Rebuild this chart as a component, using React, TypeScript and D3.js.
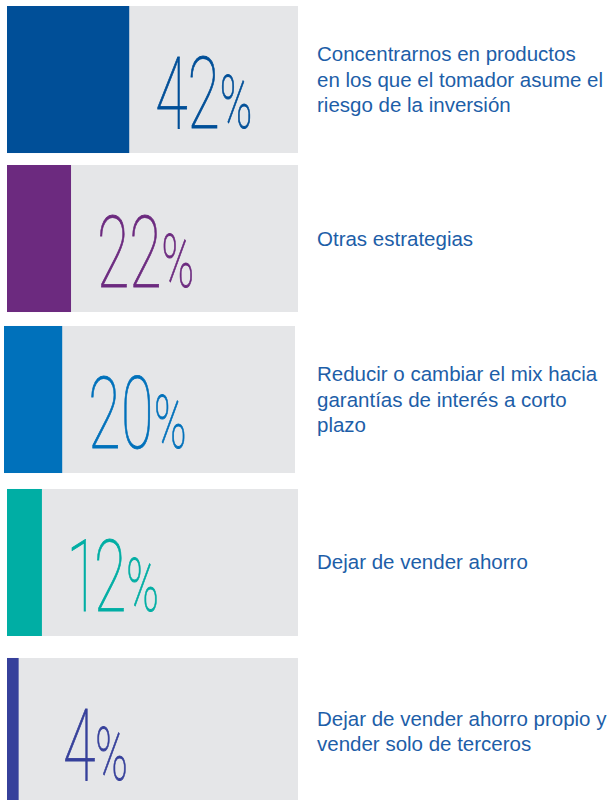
import React from "react";
import * as d3 from "d3";

const labelLines: string[][] = [
  ["Concentrarnos en productos", "en los que el tomador asume el", "riesgo de la inversión"],
  ["Otras estrategias"],
  ["Reducir o cambiar el mix hacia", "garantías de interés a corto", "plazo"],
  ["Dejar de vender ahorro"],
  ["Dejar de vender ahorro propio y", "vender solo de terceros"],
];
const values = [42, 22, 20, 12, 4];
const barColors = ["#004f98", "#6c2a7f", "#0071bb", "#00aea4", "#36409b"];

const W = 611;
const H = 800;
const panelLeft = 7;
const panelWidth = 291;
const rowNudgeY = [0, -4, -6, -6, 0];
const rowNudgeX = [0, 0, -3, 0, 0];
const labelColor = "#1d5ea8";

export default function App() {
  const ids = values.map((_, i) => String(i));
  const y = d3.scaleBand<string>().domain(ids).range([6, 805]).paddingInner(0.098).paddingOuter(0);
  const x = d3.scaleLinear().domain([0, 100]).range([0, panelWidth]);
  const bh = y.bandwidth();

  return (
    <svg width={W} height={H} style={{ position: "absolute", left: 0, top: 0, background: "#fff" }}>
      {values.map((v, i) => {
        const top = (y(ids[i]) as number) + rowNudgeY[i];
        const left = panelLeft + rowNudgeX[i];
        const bw = x(v);
        const numX = left + Math.max(bw, 30) + 26;
        const baseline = top + 122;
        const lines = labelLines[i];
        const lh = 25.5;
        const midY = top + bh / 2;
        const firstBase = midY - ((lines.length - 1) * lh) / 2 + 7;
        return (
          <g key={i}>
            <rect x={left} y={top} width={x(100)} height={bh} fill="#e5e6e8" />
            <rect x={left} y={top} width={bw} height={bh} fill={barColors[i]} />
            <text
              transform={`translate(${numX},${baseline}) scale(0.59,1)`}
              fill={barColors[i]}
              stroke={barColors[i]}
              strokeWidth={0.9}
              fontFamily="Roboto"
              fontWeight={100}
              style={{ fontVariantNumeric: "proportional-nums" }}
            >
              <tspan fontSize={100}>{v}</tspan>
              <tspan fontSize={74}>%</tspan>
            </text>
            <text fill={labelColor} fontFamily="'Liberation Sans', Arial, sans-serif" fontSize={20.5}>
              {lines.map((ln, j) => (
                <tspan key={j} x={317} y={firstBase + j * lh}>
                  {ln}
                </tspan>
              ))}
            </text>
          </g>
        );
      })}
    </svg>
  );
}
